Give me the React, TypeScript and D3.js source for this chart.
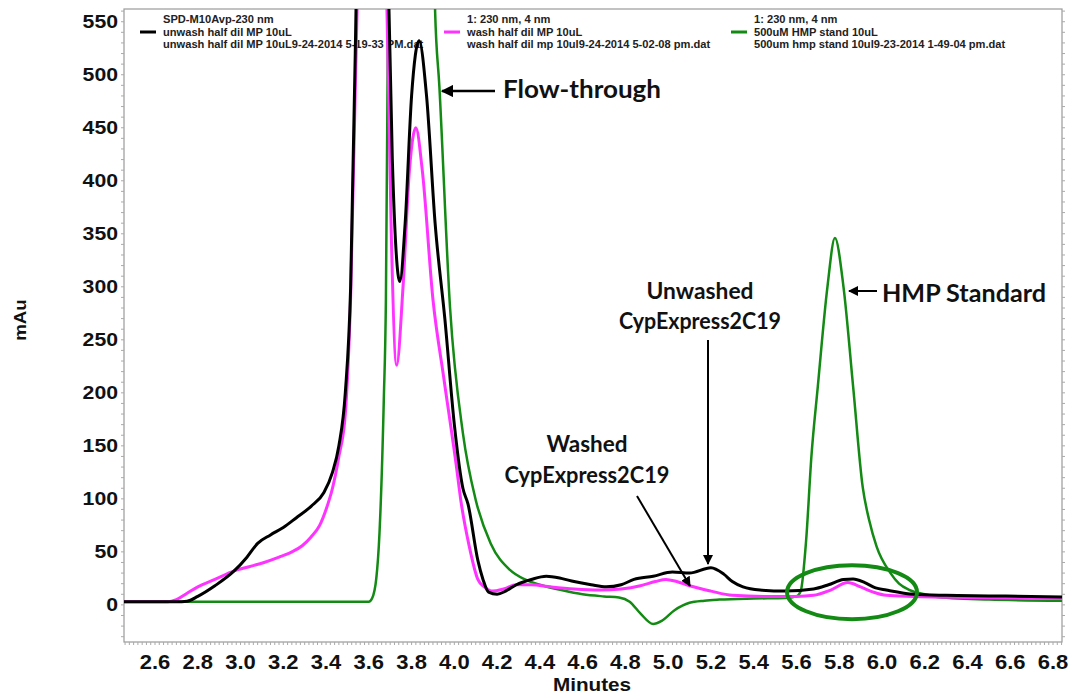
import React from "react";
import * as d3 from "d3";

// chromatogram traces: [minutes, mAu]
const unwashed: [number, number][] = [
  [2.455, 3], [2.70, 3], [2.75, 3.5], [2.80, 8], [2.88, 18], [2.97, 32], [3.03, 45], [3.08, 58],
  [3.14, 66], [3.20, 73], [3.26, 82], [3.33, 93], [3.39, 106], [3.43, 125], [3.46, 150], [3.49, 200],
  [3.515, 300], [3.54, 560], [3.58, 1100], [3.62, 1400], [3.66, 1100], [3.69, 600], [3.71, 420],
  [3.745, 305], [3.77, 360], [3.80, 480], [3.835, 532], [3.87, 480], [3.91, 360], [3.956, 269],
  [4.0, 170], [4.04, 110], [4.064, 95], [4.11, 42], [4.134, 24], [4.16, 12], [4.2, 10], [4.24, 13],
  [4.29, 19], [4.36, 24], [4.43, 27], [4.5, 25], [4.56, 22], [4.64, 19], [4.71, 17], [4.78, 19],
  [4.84, 24], [4.93, 27], [5.02, 31], [5.1, 30], [5.2, 35], [5.26, 29], [5.3, 22], [5.35, 17],
  [5.43, 14], [5.55, 13], [5.68, 15], [5.75, 19], [5.82, 24], [5.865, 24.5], [5.92, 21], [5.97, 16],
  [6.02, 14], [6.15, 10], [6.3, 9], [6.5, 8.5], [6.842, 7.5],
];

const washed: [number, number][] = [
  [2.455, 3], [2.66, 3], [2.70, 5], [2.75, 11], [2.80, 17], [2.88, 24], [2.97, 32], [3.04, 36],
  [3.11, 40], [3.18, 45], [3.24, 50], [3.29, 56], [3.33, 64], [3.37, 75], [3.40, 90], [3.43, 110],
  [3.46, 140], [3.49, 180], [3.515, 290], [3.545, 560], [3.58, 1000], [3.62, 1300], [3.66, 1000],
  [3.685, 560], [3.705, 350], [3.73, 226], [3.76, 300], [3.79, 410], [3.82, 450], [3.85, 410],
  [3.9, 288], [3.95, 215], [4.01, 130], [4.03, 99], [4.07, 55], [4.11, 24], [4.14, 17], [4.18, 13],
  [4.23, 15], [4.29, 19], [4.36, 19], [4.45, 17], [4.56, 15], [4.68, 14], [4.78, 15], [4.87, 18],
  [4.94, 22], [4.99, 24], [5.04, 22], [5.1, 18], [5.2, 13], [5.3, 9], [5.45, 8], [5.6, 8],
  [5.68, 9], [5.76, 14], [5.84, 21], [5.9, 17], [5.96, 12], [6.02, 9], [6.15, 8], [6.4, 7], [6.842, 6],
];

const hmpStandard: [number, number][] = [
  [2.455, 3], [3.6, 3], [3.615, 6], [3.635, 25], [3.65, 68], [3.67, 193], [3.68, 290], [3.69, 560],
  [3.72, 1200], [3.8, 1800], [3.87, 1100], [3.91, 560], [3.93, 489], [3.98, 280], [4.04, 162],
  [4.1, 99], [4.17, 58], [4.26, 33], [4.33, 24], [4.4, 19], [4.5, 14], [4.6, 10], [4.7, 8],
  [4.77, 7], [4.82, 3], [4.87, -8], [4.93, -18], [4.97, -15], [5.03, -5], [5.1, 2], [5.17, 4],
  [5.24, 5], [5.4, 6], [5.55, 6.5], [5.6, 8], [5.62, 13], [5.645, 60], [5.67, 140], [5.7, 206],
  [5.745, 300], [5.78, 346], [5.82, 300], [5.865, 206], [5.91, 111], [5.94, 80], [5.975, 55],
  [6.04, 30], [6.08, 20], [6.13, 14], [6.2, 10], [6.26, 7.5], [6.5, 5], [6.842, 4],
];

const xTicks = [2.6, 2.8, 3.0, 3.2, 3.4, 3.6, 3.8, 4.0, 4.2, 4.4, 4.6, 4.8, 5.0, 5.2, 5.4, 5.6, 5.8, 6.0, 6.2, 6.4, 6.6, 6.8];
const yTicks = [0, 50, 100, 150, 200, 250, 300, 350, 400, 450, 500, 550];

const legendItems = [
  { color: "#000", lines: ["SPD-M10Avp-230 nm", "unwash half dil MP 10uL", "unwash half dil MP 10uL9-24-2014 5-19-33 PM.dat"] },
  { color: "#ff33ff", lines: ["1: 230 nm, 4 nm", "wash half dil MP 10uL", "wash half dil mp 10ul9-24-2014 5-02-08 pm.dat"] },
  { color: "#138a13", lines: ["1: 230 nm, 4 nm", "500uM HMP stand 10uL", "500um hmp stand 10ul9-23-2014 1-49-04 pm.dat"] },
];

const W = 1072;
const H = 696;
const left = 124, right = 1062, top = 9, bottom = 642;

const T = ({ x, y, size, sx = 1, anchor = "start", weight = 700, family = "Liberation Sans, Arial, sans-serif", fill = "#111", len, children }: any) => (
  <text
    transform={`translate(${x},${y}) scale(${sx},1)`}
    fontSize={size}
    fontWeight={weight}
    fontFamily={family}
    textAnchor={anchor}
    fill={fill}
    textLength={len}
    lengthAdjust={len ? "spacingAndGlyphs" : undefined}
  >
    {children}
  </text>
);

export default function App() {
  const x = d3.scaleLinear().domain([2.455, 6.842]).range([left, right]);
  const y = d3.scaleLinear().domain([-35, 562]).range([bottom, top]);

  const line = d3.line<[number, number]>()
    .x(d => x(d[0]))
    .y(d => y(d[1]))
    .curve(d3.curveMonotoneX);

  const xMinor = d3.range(2.46, 6.842, 0.02);
  const yMinor = d3.range(-30, 561, 10);
  const annFont = "Lato, 'Open Sans', sans-serif";

  return (
    <svg width={W} height={H} style={{ position: "absolute", left: 0, top: 0, background: "#fff" }}>
      <defs>
        <clipPath id="plot">
          <rect x={left} y={top} width={right - left} height={bottom - top} />
        </clipPath>
        <marker id="arr" viewBox="0 0 10 10" refX="9" refY="5" markerWidth="5" markerHeight="5" orient="auto">
          <path d="M0,0 L10,5 L0,10 z" fill="#000" />
        </marker>
      </defs>

      {/* frame */}
      <rect x={left} y={top} width={right - left} height={bottom - top} fill="none" stroke="#9a9a9a" strokeWidth={1.2} />
      {yMinor.map((v, i) => (
        <g key={"ym" + i}>
          <line x1={left - 3} x2={left} y1={y(v)} y2={y(v)} stroke="#aaa" />
          <line x1={right} x2={right + 3} y1={y(v)} y2={y(v)} stroke="#aaa" />
        </g>
      ))}
      {xMinor.map((v, i) => (
        <line key={"xm" + i} x1={x(v)} x2={x(v)} y1={bottom} y2={bottom + 3} stroke="#aaa" />
      ))}

      {/* axis labels */}
      {yTicks.map(v => (
        <T key={"yt" + v} x={118} y={y(v) + 6.5} size={18} sx={1.18} anchor="end">{v}</T>
      ))}
      {xTicks.map(v => (
        <T key={"xt" + v} x={x(v)} y={669} size={20} sx={1.1} anchor="middle">{v.toFixed(1)}</T>
      ))}
      <T x={592} y={691} size={18} sx={1.15} anchor="middle">Minutes</T>
      <g transform="translate(26,320) rotate(-90)">
        <T x={0} y={0} size={17} sx={1.1} anchor="middle">mAu</T>
      </g>

      {/* legend */}
      {legendItems.map((it, i) => {
        const lx = [163, 467, 754][i];
        return (
          <g key={"lg" + i}>
            <line x1={lx - 23} x2={lx - 7} y1={32} y2={32} stroke={it.color} strokeWidth={3} />
            {it.lines.map((s, j) => (
              <T key={j} x={lx} y={23 + j * 12.5} size={10.5} sx={1.06} fill="#222">{s}</T>
            ))}
          </g>
        );
      })}

      {/* traces */}
      <g clipPath="url(#plot)" fill="none" strokeLinejoin="round">
        <path d={line(hmpStandard) || ""} stroke="#138a13" strokeWidth={2.5} />
        <path d={line(washed) || ""} stroke="#ff33ff" strokeWidth={3} />
        <path d={line(unwashed) || ""} stroke="#000" strokeWidth={3} />
        <ellipse cx={x(5.86)} cy={y(12)} rx={65} ry={27} stroke="#138a13" strokeWidth={4} />
      </g>

      {/* annotations */}
      <line x1={495} y1={91} x2={442} y2={91} stroke="#000" strokeWidth={2.5} markerEnd="url(#arr)" />
      <T x={503} y={98} size={25} family={annFont} len={158}>Flow-through</T>

      <line x1={877} y1={291} x2={849} y2={291} stroke="#000" strokeWidth={2} markerEnd="url(#arr)" />
      <T x={882} y={302} size={24} family={annFont} len={164}>HMP Standard</T>

      <T x={700} y={299} size={22} family={annFont} anchor="middle" len={107}>Unwashed</T>
      <T x={700} y={329} size={22} family={annFont} anchor="middle" len={162}>CypExpress2C19</T>
      <line x1={708} y1={340} x2={708} y2={564} stroke="#000" strokeWidth={2} markerEnd="url(#arr)" />

      <T x={587} y={452} size={22} family={annFont} anchor="middle" len={81}>Washed</T>
      <T x={587} y={483} size={22} family={annFont} anchor="middle" len={165}>CypExpress2C19</T>
      <line x1={637} y1={496} x2={690} y2={586} stroke="#000" strokeWidth={2} markerEnd="url(#arr)" />
    </svg>
  );
}
